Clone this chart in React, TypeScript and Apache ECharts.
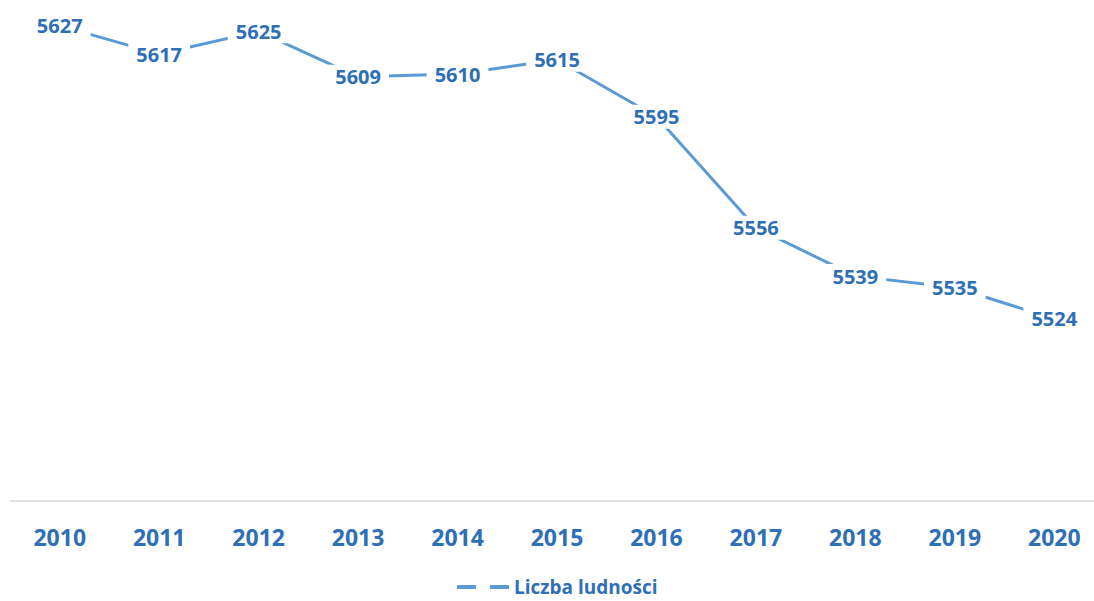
import React, { useEffect, useRef } from "react";
import * as echarts from "echarts";

const years = ["2010", "2011", "2012", "2013", "2014", "2015", "2016", "2017", "2018", "2019", "2020"];
const population = [5627, 5617, 5625, 5609, 5610, 5615, 5595, 5556, 5539, 5535, 5524];
const seriesName = "Liczba ludności";

export default function App() {
  const ref = useRef<HTMLDivElement>(null);
  useEffect(() => {
    if (!ref.current) return;
    const chart = echarts.init(ref.current, null, { renderer: "svg" });
    const blue = "#2e6fb5";
    chart.setOption({
      animation: false,
      backgroundColor: "#ffffff",
      textStyle: { fontFamily: "Open Sans" },
      grid: { left: 10, right: 0, top: 0, bottom: 100, containLabel: false },
      legend: {
        data: [
          {
            name: seriesName,
            icon: "path://M0,0H19V4H0Z M33,0H52V4H33Z",
          },
        ],
        left: 457,
        top: 577,
        padding: 0,
        itemWidth: 52,
        itemHeight: 4,
        itemGap: 10,
        textStyle: { color: blue, fontSize: 19, lineHeight: 20, fontWeight: "bold", fontFamily: "Open Sans" },
      },
      xAxis: {
        type: "category",
        data: years,
        boundaryGap: true,
        axisLine: { show: true, lineStyle: { color: "#d9d9d9", width: 1.5 } },
        axisTick: { show: false },
        axisLabel: { color: blue, fontSize: 23, fontWeight: "bold", margin: 24, fontFamily: "Open Sans" },
        splitLine: { show: false },
      },
      yAxis: {
        type: "value",
        min: 5460,
        max: 5636,
        show: false,
        splitLine: { show: false },
      },
      series: [
        {
          name: seriesName,
          type: "line",
          data: population,
          symbol: "circle",
          symbolSize: 2,
          showSymbol: true,
          lineStyle: { color: "#5b9bd5", width: 3 },
          itemStyle: { color: "#5b9bd5" },
          label: {
            show: true,
            position: "inside",
            color: blue,
            fontSize: 20,
            fontWeight: "bold",
            fontFamily: "Open Sans",
            backgroundColor: "#ffffff",
            padding: [2, 8, 2, 8],
          },
        },
      ],
    });
    return () => chart.dispose();
  }, []);
  return (
    <div style={{ position: "absolute", left: 0, top: 0, width: 1094, height: 601, overflow: "hidden" }}>
      <div ref={ref} style={{ position: "absolute", left: 0, top: 0, width: 1104, height: 601 }} />
    </div>
  );
}
